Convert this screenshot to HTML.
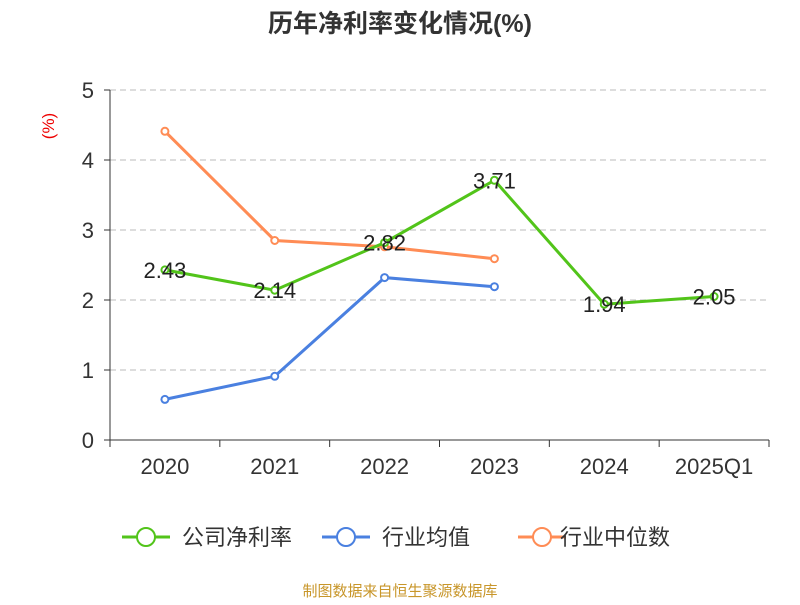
<!DOCTYPE html>
<html><head><meta charset="utf-8"><style>
body{margin:0;background:#fff;}
svg text{font-family:"Liberation Sans","Noto Sans CJK SC",sans-serif;}
</style></head><body>
<svg width="800" height="600">
<text x="400" y="32" text-anchor="middle" font-size="25" font-weight="bold" fill="#333">历年净利率变化情况(%)</text>
<text x="0" y="0" transform="translate(54,126) rotate(-90)" text-anchor="middle" font-size="17" fill="#e00">(%)</text>
<g id="grid"></g><g id="axes"></g><g id="series"></g>
<g>
<g><line x1="122" y1="537" x2="170" y2="537" stroke="#52c41a" stroke-width="3"/><circle cx="146" cy="537" r="9" fill="#fff" stroke="#52c41a" stroke-width="2"/><text x="182" y="545" font-size="22" fill="#333">公司净利率</text></g>
<g><line x1="322" y1="537" x2="370" y2="537" stroke="#4a80e0" stroke-width="3"/><circle cx="346" cy="537" r="9" fill="#fff" stroke="#4a80e0" stroke-width="2"/><text x="382" y="545" font-size="22" fill="#333">行业均值</text></g>
<g><line x1="518" y1="537" x2="566" y2="537" stroke="#ff8c55" stroke-width="3"/><circle cx="542" cy="537" r="9" fill="#fff" stroke="#ff8c55" stroke-width="2"/><text x="560" y="545" font-size="22" fill="#333">行业中位数</text></g>
</g>
<text x="400" y="596" text-anchor="middle" font-size="15" fill="#c8962a">制图数据来自恒生聚源数据库</text>
</svg>
<script>
const categories=["2020","2021","2022","2023","2024","2025Q1"];
const company=[2.43,2.14,2.82,3.71,1.94,2.05];
const industryAvg=[0.58,0.91,2.32,2.19,null,null];
const industryMedian=[4.41,2.85,2.76,2.59,null,null];
const yTicks=[0,1,2,3,4,5];
const NS="http://www.w3.org/2000/svg";
const x0=110,x1=769,y0=440,yTop=90,yMax=5;
const band=(x1-x0)/categories.length;
const X=i=>x0+band*(i+0.5);
const Y=v=>y0-(v/yMax)*(y0-yTop);
function mk(tag,attrs,parent){const e=document.createElementNS(NS,tag);for(const k in attrs)e.setAttribute(k,attrs[k]);parent.appendChild(e);return e;}
const grid=document.getElementById('grid'),axes=document.getElementById('axes'),ser=document.getElementById('series');
yTicks.forEach(t=>{
 if(t>0){const l=mk('line',{x1:x0,x2:x1,y1:Y(t),y2:Y(t),stroke:'#bbb','stroke-dasharray':'6,4'},grid);
 
 }
 const tx=mk('text',{x:94,y:Y(t)+8,'text-anchor':'end','font-size':22,fill:'#333'},axes);tx.textContent=t;
 
 
 mk('line',{x1:104,x2:x0,y1:Y(t),y2:Y(t),stroke:'#333'},axes);
});
const ya=mk('line',{x1:x0,x2:x0,y1:yTop,y2:y0,stroke:'#333'},axes);


const xa=mk('line',{x1:x0,x2:x1,y1:y0,y2:y0,stroke:'#333'},axes);


for(let i=0;i<=categories.length;i++)mk('line',{x1:x0+band*i,x2:x0+band*i,y1:y0,y2:y0+7,stroke:'#333'},axes);
categories.forEach((c,i)=>{const t=mk('text',{x:X(i),y:474,'text-anchor':'middle','font-size':22,fill:'#333'},axes);t.textContent=c;
 
 });
function series(data,color,name,labels){
 const pts=[];data.forEach((v,i)=>{if(v!==null)pts.push([X(i),Y(v),v]);});
 const p=mk('polyline',{points:pts.map(p=>p[0]+','+p[1]).join(' '),fill:'none',stroke:color,'stroke-width':3},ser);
 
 
 pts.forEach(q=>{const c=mk('circle',{cx:q[0],cy:q[1],r:3.5,fill:'#fff',stroke:color,'stroke-width':2},ser);
  
  
  if(labels){const t=mk('text',{x:q[0],y:q[1]+8,'text-anchor':'middle','font-size':22,fill:'#222'},ser);t.textContent=q[2].toFixed(2);
   
   }
 });
}
series(industryMedian,'#ff8c55','industry-median',false);
series(industryAvg,'#4a80e0','industry-avg',false);
series(company,'#52c41a','company',true);
</script>
</body></html>
